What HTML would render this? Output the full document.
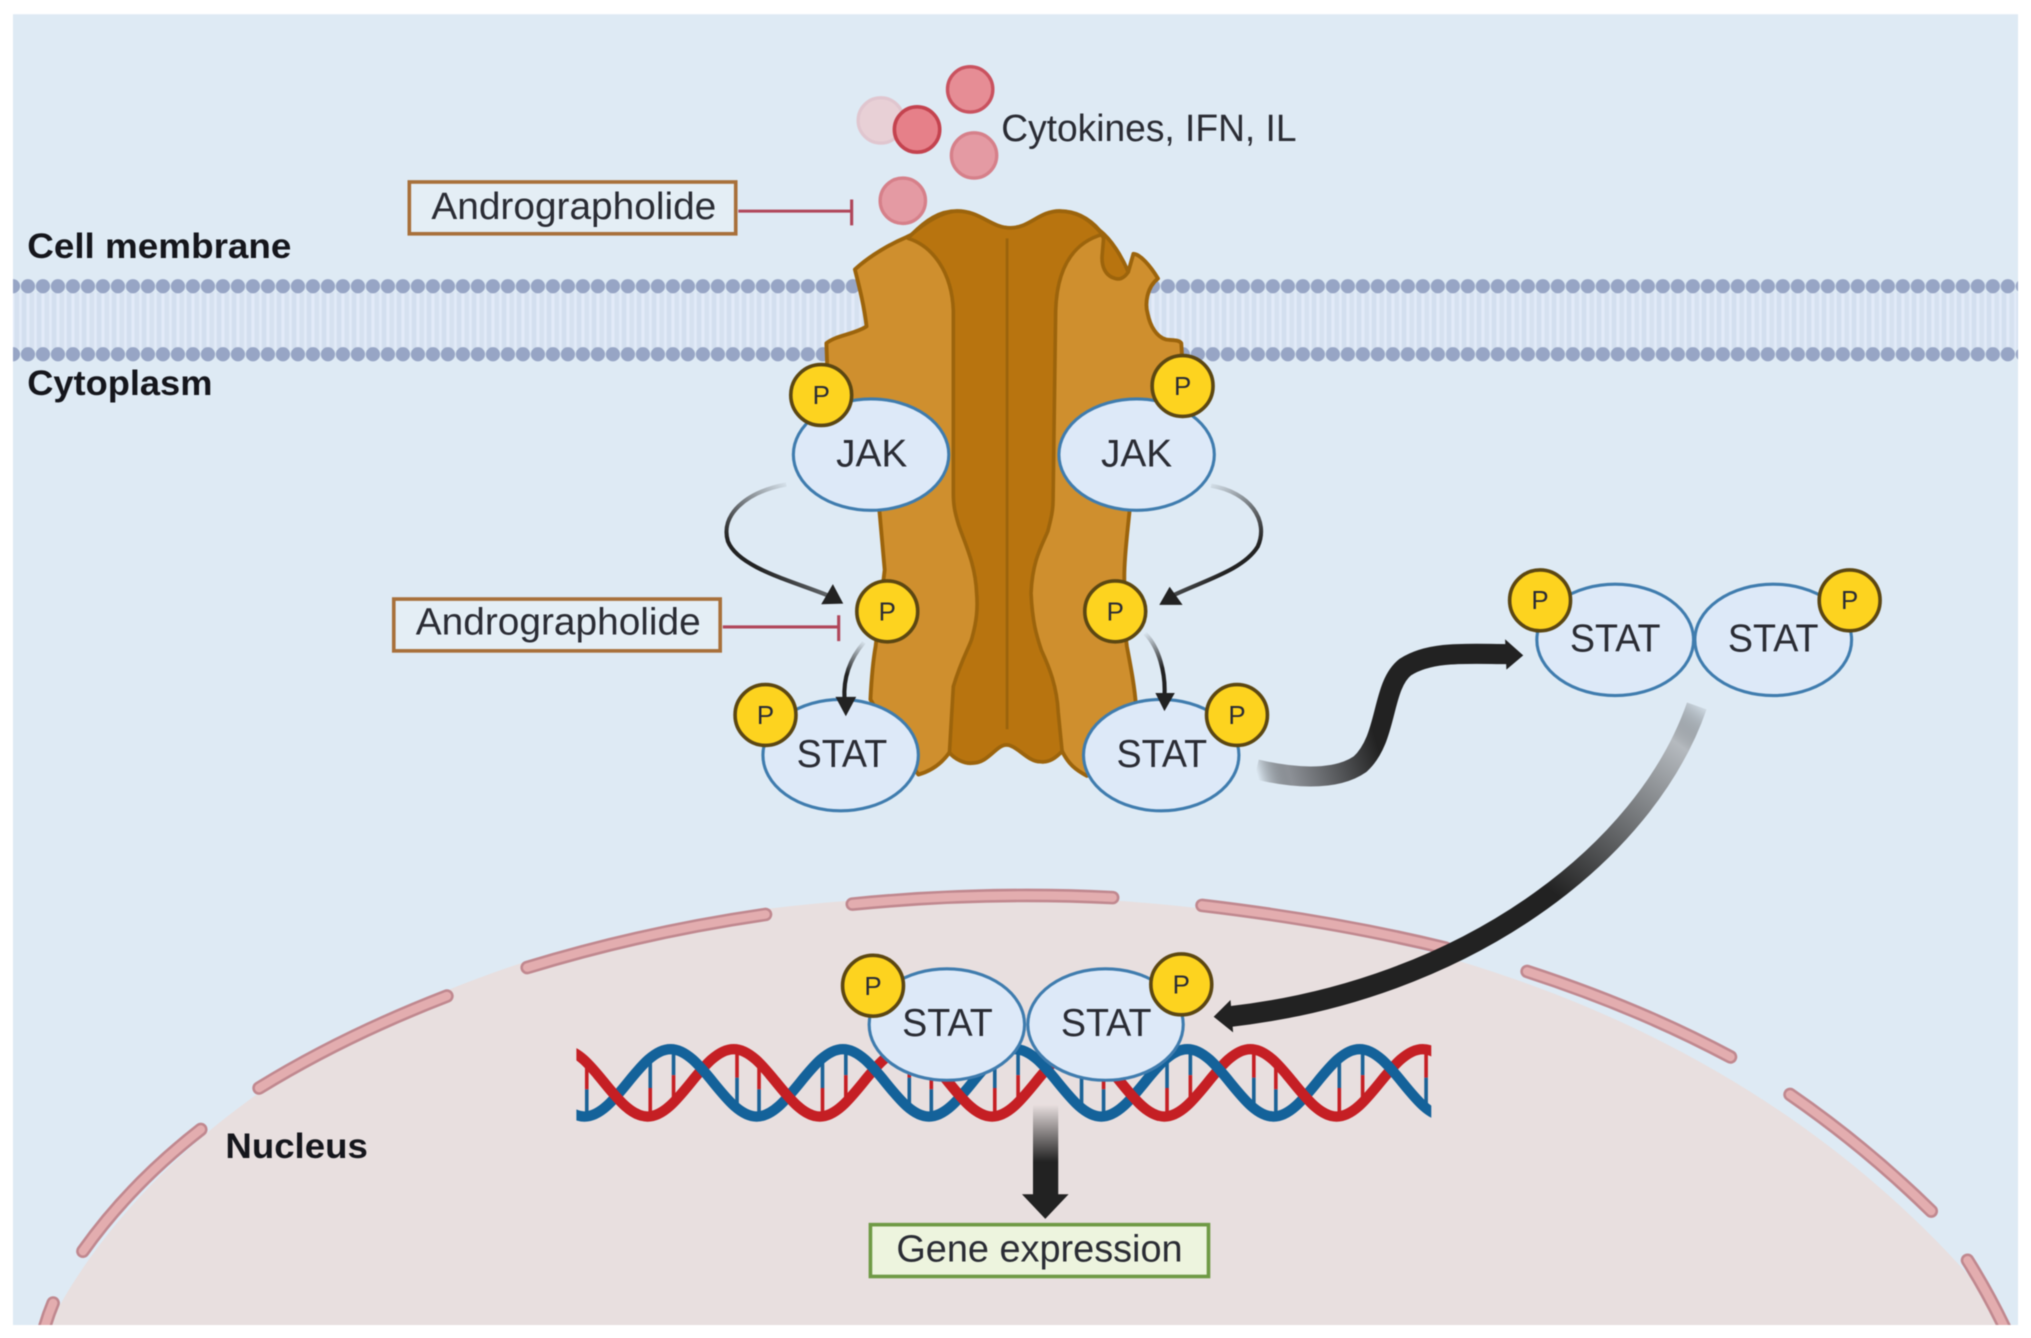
<!DOCTYPE html>
<html><head><meta charset="utf-8"><style>
html,body{margin:0;padding:0;background:#fff}
svg{display:block;filter:blur(.6px)}
text{font-family:"Liberation Sans",sans-serif;fill:#2a2c34}
</style></head><body>
<svg xmlns="http://www.w3.org/2000/svg" width="2031" height="1338" viewBox="0 0 1568 1033">
<defs>
<pattern id="beads" patternUnits="userSpaceOnUse" x="4.2" y="0" width="11.58" height="1033"><circle cx="5.79" cy="221" r="5.5" fill="#97a5c5"/><circle cx="5.79" cy="273.5" r="5.5" fill="#97a5c5"/></pattern>
<pattern id="tails" patternUnits="userSpaceOnUse" x="4.2" y="0" width="11.58" height="40"><rect width="11.58" height="40" fill="#e2ebf8"/><rect x="1" width="3.6" height="40" fill="#d3dfef"/><rect x="7" width="3.6" height="40" fill="#d6e1f0"/></pattern>
<linearGradient id="g1" gradientUnits="userSpaceOnUse" x1="970" y1="596" x2="1062" y2="570"><stop offset="0" stop-color="#222" stop-opacity="0"/><stop offset=".25" stop-color="#8d9197"/><stop offset="1" stop-color="#222"/></linearGradient>
<linearGradient id="g2" gradientUnits="userSpaceOnUse" x1="1312" y1="540" x2="1200" y2="690"><stop offset="0" stop-color="#222" stop-opacity="0"/><stop offset=".2" stop-color="#b5babf"/><stop offset="1" stop-color="#222"/></linearGradient>
<linearGradient id="g3" gradientUnits="userSpaceOnUse" x1="0" y1="853" x2="0" y2="897"><stop offset="0" stop-color="#222" stop-opacity="0"/><stop offset="1" stop-color="#222"/></linearGradient>
<linearGradient id="g4" gradientUnits="userSpaceOnUse" x1="610" y1="372" x2="565" y2="420"><stop offset="0" stop-color="#222" stop-opacity="0"/><stop offset="1" stop-color="#222"/></linearGradient>
<linearGradient id="g5" gradientUnits="userSpaceOnUse" x1="932" y1="372" x2="972" y2="420"><stop offset="0" stop-color="#222" stop-opacity="0"/><stop offset="1" stop-color="#222"/></linearGradient>
<linearGradient id="g6" gradientUnits="userSpaceOnUse" x1="668" y1="495" x2="653" y2="520"><stop offset="0" stop-color="#222" stop-opacity="0"/><stop offset="1" stop-color="#222"/></linearGradient>
<linearGradient id="g7" gradientUnits="userSpaceOnUse" x1="884" y1="488" x2="899" y2="515"><stop offset="0" stop-color="#222" stop-opacity="0"/><stop offset="1" stop-color="#222"/></linearGradient>
<clipPath id="dc"><rect x="445" y="800" width="660" height="70"/></clipPath>
<clipPath id="lc"><rect x="456" y="832" width="39" height="38"/><rect x="589" y="832" width="39" height="38"/><rect x="722" y="832" width="39" height="38"/><rect x="855" y="832" width="39" height="38"/><rect x="988" y="832" width="39" height="38"/></clipPath>
<clipPath id="bgc"><rect x="10" y="11" width="1548" height="1012"/></clipPath>
<g id="rung" fill="none" stroke-width="2.8">
<path d="M0 817V840M18 810V830M67 832V855M84 841V862" stroke="#1b6296"/>
<path d="M0 840V862M18 830V851M67 810V832M84 820V841" stroke="#c51f24"/>
</g>
<path id="redS" fill="none" stroke="#c51f24" stroke-width="8" d="M366.900 862 C391.100 862 409.200 810 433.400 810 S475.700 862 499.900 862 S542.200 810 566.400 810 S608.700 862 632.900 862 S675.200 810 699.400 810 S741.700 862 765.900 862 S808.200 810 832.400 810 S874.700 862 898.900 862 S941.200 810 965.400 810 S1007.700 862 1031.900 862 S1074.200 810 1098.400 810 S1140.700 862 1164.900 862"/>
</defs>

<rect x="10" y="11" width="1548" height="1012" fill="#deeaf4"/>

<g clip-path="url(#bgc)">
<path d="M38 1023 C110 880,330 690,760 692 C1150 692,1405 835,1552 1023 Z" fill="#e8dfdf"/>
<g fill="none" stroke-linecap="round">
<g stroke="#c0888f" stroke-width="10.5">
<path d="M41 1006Q36 1018 33 1030"/>
<path d="M64 966Q100 915 155 872"/>
<path d="M200 840Q265 800 345 769"/>
<path d="M407 747Q495 720 591 706"/>
<path d="M658 698Q760 688 859 693"/>
<path d="M928 699Q1030 711 1116 732"/>
<path d="M1179 750Q1265 778 1336 816"/>
<path d="M1382 845Q1440 885 1491 935"/>
<path d="M1519 973Q1536 1000 1550 1030"/>
</g>
<g stroke="#e3adaf" stroke-width="6.5">
<path d="M41 1006Q36 1018 33 1030"/>
<path d="M64 966Q100 915 155 872"/>
<path d="M200 840Q265 800 345 769"/>
<path d="M407 747Q495 720 591 706"/>
<path d="M658 698Q760 688 859 693"/>
<path d="M928 699Q1030 711 1116 732"/>
<path d="M1179 750Q1265 778 1336 816"/>
<path d="M1382 845Q1440 885 1491 935"/>
<path d="M1519 973Q1536 1000 1550 1030"/>
</g>
</g>
</g>

<!-- membrane -->
<rect x="10" y="226" width="1548" height="43" fill="url(#tails)"/>
<rect x="10" y="214" width="1548" height="66" fill="url(#beads)"/>

<!-- receptor -->
<path d="M660 208 C672 197,688 188,700 183 L704 181 C715 170,725 163,739 163 C757 163,765 176,780 176 C795 176,802 163,818 163 C832 163,842 170,849 178 C858 185,866 198,871 210 L875 196 C880 196,888 205,894 215 C885 222,884 235,886 242 C888 252,893 260,900 262 C905 263,910 262,912 265 L914 300 L880 340 L872 395 C870 415,868 430,868 445 C868 470,868 485,870 499 C873 515,876 530,877 545 L880 570 L839 599 C830 594,825 590,820 580 C815 585,810 589,803 588 C793 588,785 575,777 575 C769 575,763 589,751 589 C745 590,737 586,733 581 C728 588,720 595,709 598 L690 570 L672 540 C673 520,674 510,676 499 L683 440 L679 395 L640 320 L638 265 C645 259,660 258,669 252 C667 235,663 220,660 208 Z" fill="#cf8f2e" stroke="#9c640c" stroke-width="3" stroke-linejoin="round"/>
<path d="M701 184 C706 178,725 163,739 163 C757 163,765 176,780 176 C795 176,802 163,818 163 C832 163,842 170,851 181 C830 187,816 205,815 240 L813 386 C813 395,811 402,809 410 C805 420,797 432,796 458 C797 480,800 490,804 502 C810 515,816 530,817 550 L820 580 C815 585,810 589,803 588 C793 588,785 575,777 575 C769 575,763 589,751 589 C745 590,737 586,733 581 L736 530 C742 510,748 500,750 494 C754 480,755 470,754 458 C753 435,745 420,740 405 C737 395,736 390,736 380 L736 240 C735 210,720 190,701 184 Z" fill="#b8740f" stroke="#9c640c" stroke-width="2.8" stroke-linejoin="round"/>
<path d="M849 178 C858 185,866 198,871 210 C868 215,864 216,861 215 C853 213,850 205,851 196 L852 184 Z" fill="#b8740f" stroke="#9c640c" stroke-width="2.8" stroke-linejoin="round"/>
<path d="M777.500 184V563" stroke="#9c640c" stroke-width="2.2"/>

<!-- cytokines -->
<circle cx="680" cy="93" r="17.500" fill="#e8d0d6" stroke="#e0c6cf" stroke-width="2.5"/>
<circle cx="749" cy="69" r="17.500" fill="#e68d95" stroke="#c9525f" stroke-width="2.6"/>
<circle cx="708" cy="100" r="17.500" fill="#e68089" stroke="#c4434f" stroke-width="2.8"/>
<circle cx="752" cy="120" r="17.500" fill="#e49aa3" stroke="#d6808a" stroke-width="2.6"/>
<circle cx="697" cy="155" r="17.500" fill="#e49aa3" stroke="#d6808a" stroke-width="2.6"/>

<text x="773" y="109" font-size="29" textLength="228" lengthAdjust="spacingAndGlyphs">Cytokines, IFN, IL</text>

<text x="21" y="199" font-size="27" font-weight="700" textLength="204" lengthAdjust="spacingAndGlyphs" style="fill:#15161c">Cell membrane</text>
<text x="21" y="305" font-size="27" font-weight="700" textLength="143" lengthAdjust="spacingAndGlyphs" style="fill:#15161c">Cytoplasm</text>
<text x="174" y="894" font-size="27" font-weight="700" textLength="110" lengthAdjust="spacingAndGlyphs" style="fill:#15161c">Nucleus</text>

<!-- andrographolide 1 -->
<rect x="316" y="140.500" width="252" height="40" fill="#e4eef5" stroke="#a8703a" stroke-width="2.8"/>
<text x="333" y="169" font-size="29" textLength="220" lengthAdjust="spacingAndGlyphs">Andrographolide</text>
<path d="M570 163H657M657.500 154V174" stroke="#b0465a" stroke-width="2.4" fill="none"/>

<!-- andrographolide 2 -->
<rect x="304" y="462.500" width="252" height="40" fill="#e4eef5" stroke="#a8703a" stroke-width="2.8"/>
<text x="321" y="490" font-size="29" textLength="220" lengthAdjust="spacingAndGlyphs">Andrographolide</text>
<path d="M558 484H647M647.500 475V495" stroke="#b0465a" stroke-width="2.4" fill="none"/>

<!-- curved JAK arrows -->
<path d="M607 374 C575 380,556 398,562 418 C570 438,610 448,640 460" fill="none" stroke="url(#g4)" stroke-width="3.2"/>
<polygon points="651,466 634,466.500 643,451" fill="#222"/>
<path d="M935 375 C965 380,980 402,971 422 C960 440,930 448,905 460" fill="none" stroke="url(#g5)" stroke-width="3.2"/>
<polygon points="895,467 913,467 903,453" fill="#222"/>

<!-- DNA -->
<g clip-path="url(#dc)">
<use href="#rung" x="369"/><use href="#rung" x="502"/><use href="#rung" x="635"/><use href="#rung" x="768"/><use href="#rung" x="901"/><use href="#rung" x="1034"/>
<use href="#redS"/>
<path fill="none" stroke="#14629a" stroke-width="8" d="M384.700 810 C408.900 810 427 862 451.200 862 S493.500 810 517.700 810 S560 862 584.200 862 S626.500 810 650.700 810 S693 862 717.200 862 S759.500 810 783.700 810 S826 862 850.200 862 S892.500 810 916.700 810 S959 862 983.200 862 S1025.500 810 1049.700 810 S1092 862 1116.200 862"/>
<g clip-path="url(#lc)"><use href="#redS"/></g>
</g>

<!-- big arrows -->
<path d="M970 594 C995 600,1030 604,1050 590 C1072 570,1066 530,1085 515 C1105 502,1135 505,1166 505" fill="none" stroke="url(#g1)" stroke-width="15.500"/>
<polygon points="1176,506 1162,493.500 1163,517" fill="#222"/>
<path d="M1310 545 C1270 660,1130 765,948 785" fill="none" stroke="url(#g2)" stroke-width="16"/>
<polygon points="937,785 950,772 952,797" fill="#222"/>
<rect x="797.500" y="853" width="19.500" height="72" fill="url(#g3)"/>
<polygon points="789,922 825,922 807,941" fill="#222"/>

<!-- gene expression -->
<rect x="672" y="945.500" width="261" height="40" fill="#edf4de" stroke="#6f9a45" stroke-width="2.8"/>
<text x="692" y="974" font-size="29" textLength="221" lengthAdjust="spacingAndGlyphs">Gene expression</text>

<!-- JAK / STAT ellipses -->
<g fill="#dde9f8" stroke="#3f7cae" stroke-width="2.400">
<ellipse cx="672.500" cy="351" rx="60" ry="43"/>
<ellipse cx="877.500" cy="351" rx="60" ry="43"/>
<ellipse cx="649" cy="583" rx="60" ry="43"/>
<ellipse cx="896.500" cy="583" rx="60" ry="43"/>
<ellipse cx="1247" cy="494" rx="60.500" ry="43"/>
<ellipse cx="1369" cy="494" rx="60.500" ry="43"/>
<ellipse cx="731" cy="791" rx="60" ry="43"/>
<ellipse cx="853.500" cy="791" rx="60" ry="43"/>
</g>
<g font-size="30" text-anchor="middle">
<text x="673" y="360" textLength="55" lengthAdjust="spacingAndGlyphs">JAK</text>
<text x="877.500" y="360" textLength="55" lengthAdjust="spacingAndGlyphs">JAK</text>
<text x="650" y="592" textLength="70" lengthAdjust="spacingAndGlyphs">STAT</text>
<text x="897" y="592" textLength="70" lengthAdjust="spacingAndGlyphs">STAT</text>
<text x="1247" y="503" textLength="70" lengthAdjust="spacingAndGlyphs">STAT</text>
<text x="1369" y="503" textLength="70" lengthAdjust="spacingAndGlyphs">STAT</text>
<text x="731.500" y="800" textLength="70" lengthAdjust="spacingAndGlyphs">STAT</text>
<text x="854" y="800" textLength="70" lengthAdjust="spacingAndGlyphs">STAT</text>
</g>

<!-- short arrows over STAT -->
<path d="M667 496 C655 510,651 525,652 540" fill="none" stroke="url(#g6)" stroke-width="3.200"/>
<polygon points="653,553 645,538 661,538" fill="#222"/>
<path d="M884 489 C895 500,900 520,899 537" fill="none" stroke="url(#g7)" stroke-width="3.200"/>
<polygon points="899,549 892,535 907,535" fill="#222"/>

<!-- phosphates -->
<g fill="#fdd31f" stroke="#5c4712" stroke-width="2.800">
<circle cx="634" cy="305" r="23.500"/><circle cx="913" cy="298" r="23.500"/>
<circle cx="685" cy="472" r="23.500"/><circle cx="861" cy="472" r="23.500"/>
<circle cx="591" cy="552" r="23.500"/><circle cx="955" cy="552" r="23.500"/>
<circle cx="1189" cy="463.500" r="23.500"/><circle cx="1428" cy="463.500" r="23.500"/>
<circle cx="674" cy="761" r="23.500"/><circle cx="912" cy="760" r="23.500"/>
</g>
<g font-size="20" text-anchor="middle">
<text x="634" y="312">P</text><text x="913" y="305">P</text>
<text x="685" y="479">P</text><text x="861" y="479">P</text>
<text x="591" y="559">P</text><text x="955" y="559">P</text>
<text x="1189" y="470">P</text><text x="1428" y="470">P</text>
<text x="674" y="768">P</text><text x="912" y="767">P</text>
</g>
</svg>
</body></html>
